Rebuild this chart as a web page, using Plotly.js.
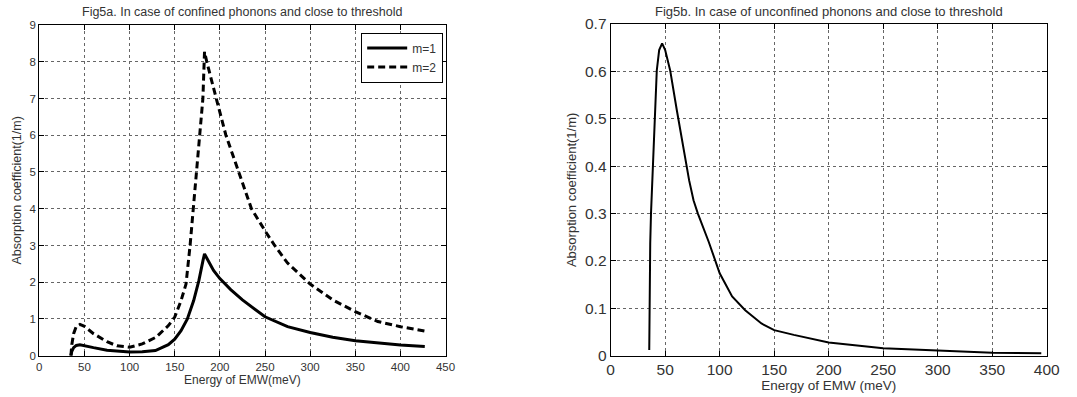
<!DOCTYPE html>
<html><head><meta charset="utf-8">
<script src="https://cdn.plot.ly/plotly-3.0.1.min.js"></script>
<style>html,body{margin:0;padding:0;background:#fff;}#chart{width:1077px;height:397px;}</style>
</head><body><div id="chart"></div>
<script>
// Fig 5a: confined phonons
const xM1 = [35,36,38,41,45,50,60,75,90,100,114,128.6,142.9,150,157,164,171,176.8,181.4,183,193,200,212,225,250,275,300,325,350,375,400,427];
const yM1 = [0,0.12,0.22,0.28,0.3,0.28,0.22,0.15,0.11,0.1,0.11,0.14,0.3,0.45,0.68,1.0,1.5,2.05,2.6,2.77,2.32,2.1,1.8,1.52,1.06,0.79,0.63,0.5,0.41,0.34,0.29,0.25];
const xM2 = [35,36,38,41,45,50,60,75,86,100,114,129,143,150,157,162.5,167,170.6,174.8,178.4,181.2,183,185.5,196,206.7,220.9,235,250,260.7,275,300,325,350,375,400,427];
const yM2 = [0,0.3,0.6,0.8,0.85,0.8,0.6,0.38,0.27,0.23,0.32,0.5,0.82,1.05,1.5,1.95,3.0,4,5,6,7,8.27,8,7,6,5,4,3.4,3.0,2.52,1.95,1.52,1.2,0.93,0.79,0.67];
// Fig 5b: unconfined phonons
const xB = [35.4,35.6,35.8,36.3,37.0,37.5,38.7,39.9,40.8,42.3,44.5,47.2,50,54.6,60.7,66.9,72,76,80,90,100,111.4,123.4,138.3,150,168,200,250,300,350,395];
const yB = [0.012,0.135,0.075,0.237,0.30,0.33,0.42,0.475,0.54,0.602,0.645,0.659,0.645,0.602,0.518,0.435,0.37,0.328,0.3,0.24,0.174,0.125,0.096,0.068,0.054,0.044,0.028,0.016,0.011,0.006,0.005];

const leftTitle = "Fig5a. In case of confined phonons and close to threshold";
const rightTitle = "Fig5b. In case of unconfined phonons and close to threshold";
const xTitleA = "Energy of EMW(meV)";
const xTitleB = "Energy of EMW (meV)";
const yTitle = "Absorption coefficient(1/m)";

const FONT = "Liberation Sans, Arial, sans-serif";
const txt = "#333";

function axBase(extra){
  return Object.assign({
    showline:true, linecolor:'#000', linewidth:1, mirror:'ticks',
    ticks:'inside', ticklen:5, tickcolor:'#000',
    showgrid:true, gridcolor:'#666', griddash:'dot', gridwidth:1,
    zeroline:false, tickfont:{family:FONT,size:11.5,color:txt},
    fixedrange:true
  }, extra);
}

const traces = [
  {x:xM1, y:yM1, mode:'lines', name:'m=1', line:{color:'#000', width:3}, xaxis:'x', yaxis:'y'},
  {x:xM2, y:yM2, mode:'lines', name:'m=2', line:{color:'#000', width:3, dash:'7px,4px'}, xaxis:'x', yaxis:'y'},
  {x:xB, y:yB, mode:'lines', name:'b', showlegend:false, line:{color:'#000', width:2}, xaxis:'x2', yaxis:'y2'}
];

const layout = {
  width:1077, height:397,
  margin:{l:0,r:0,t:0,b:0},
  paper_bgcolor:'#fff', plot_bgcolor:'#fff',
  showlegend:true,
  legend:{x:0.4115, xanchor:'right', y:0.918, yanchor:'top', bordercolor:'#000', borderwidth:1,
          bgcolor:'#fff', font:{family:FONT,size:12,color:txt}, tracegroupgap:0, itemwidth:40},
  xaxis: axBase({domain:[0.0365,0.4137], range:[0,450], dtick:50, anchor:'y',
    title:{text:xTitleA, font:{family:FONT,size:12,color:txt}, standoff:4}}),
  yaxis: axBase({domain:[0.104,0.937], range:[0,9], dtick:1, anchor:'x',
    title:{text:yTitle, font:{family:FONT,size:12.5,color:txt}, standoff:5}}),
  xaxis2: axBase({domain:[0.567,0.9719], range:[0,400], dtick:50, anchor:'y2',
    tickfont:{family:FONT,size:15.5,color:txt},
    title:{text:xTitleB, font:{family:FONT,size:13.5,color:txt}, standoff:1}}),
  yaxis2: axBase({domain:[0.104,0.9395], range:[0,0.7], dtick:0.1, anchor:'x2',
    tickfont:{family:FONT,size:15.5,color:txt},
    title:{text:yTitle, font:{family:FONT,size:13,color:txt}, standoff:5}}),
  annotations:[
    {text:leftTitle, xref:'paper', yref:'paper', x:(0.0365+0.4137)/2, y:1-12/397, xanchor:'center', yanchor:'middle', showarrow:false, font:{family:FONT,size:12.5,color:txt}},
    {text:rightTitle, xref:'paper', yref:'paper', x:(0.567+0.9719)/2, y:1-12/397, xanchor:'center', yanchor:'middle', showarrow:false, font:{family:FONT,size:13,color:txt}}
  ]
};

Plotly.newPlot('chart', traces, layout, {displayModeBar:false, staticPlot:true});
</script></body></html>
